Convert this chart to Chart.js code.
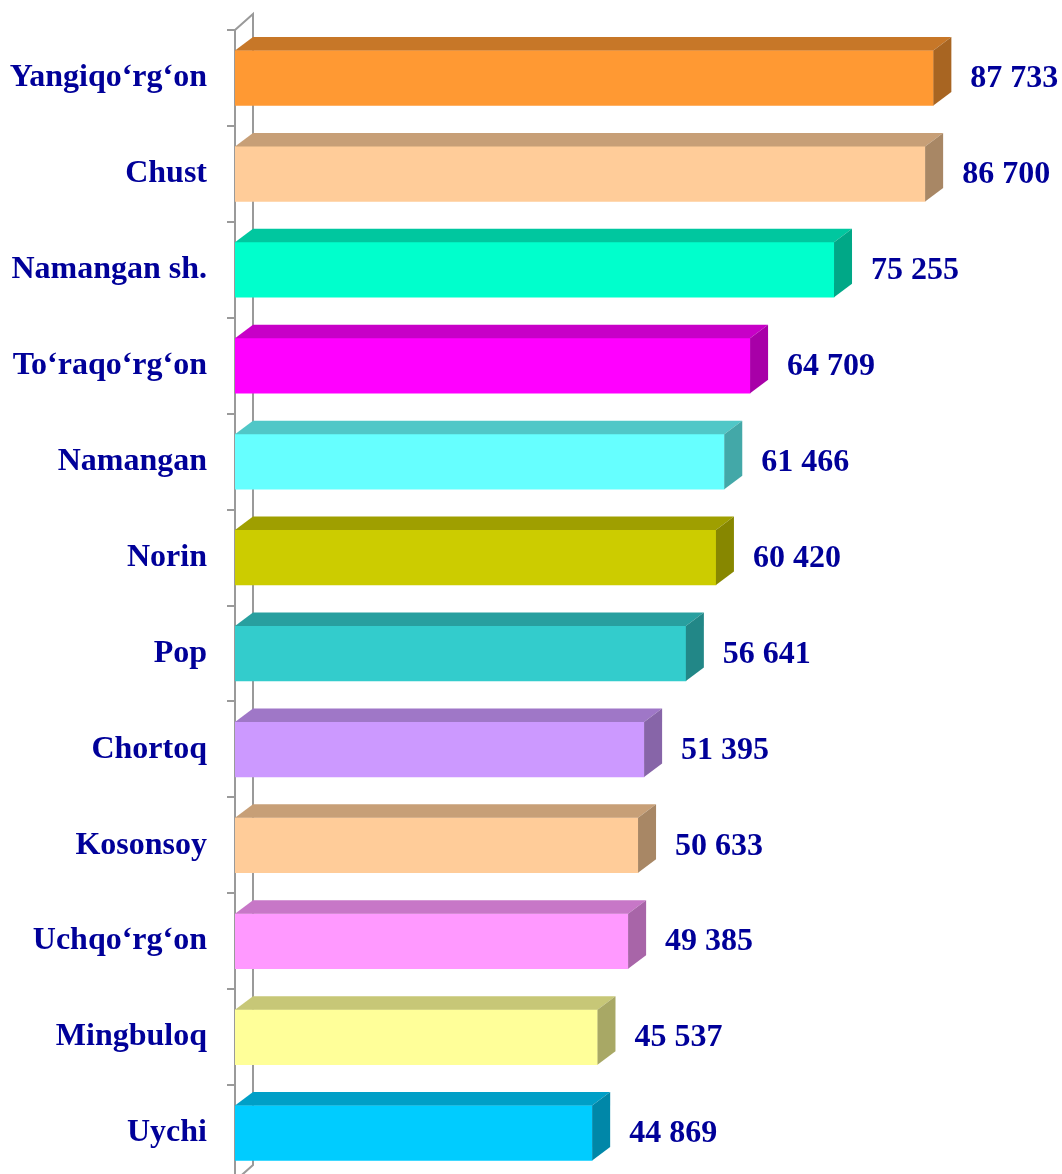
<!DOCTYPE html>
<html>
<head>
<meta charset="utf-8">
<script src="https://cdn.jsdelivr.net/npm/chart.js@4/dist/chart.umd.min.js"></script>
<style>
    html, body { margin: 0; padding: 0; background: #ffffff; overflow: hidden; height: 1174px; }
    /* the bottom band runs a few pixels past the window edge */
    #wrap { position: relative; width: 1062px; height: 1181px; }
</style>
</head>
<body>
<div id="wrap"><canvas id="chartTumanlar"></canvas></div>
<script>
// Districts and their values
const tumanlar = [
    'Yangiqo‘rg‘on', 'Chust', 'Namangan sh.', 'To‘raqo‘rg‘on', 'Namangan', 'Norin',
    'Pop', 'Chortoq', 'Kosonsoy', 'Uchqo‘rg‘on', 'Mingbuloq', 'Uychi'
];
const qiymatlar = [87733, 86700, 75255, 64709, 61466, 60420, 56641, 51395, 50633, 49385, 45537, 44869];

// Front face colours, one per bar
const ranglar = [
    '#FF9933', '#FFCC99', '#00FFCC', '#FF00FF', '#66FFFF', '#CCCC00',
    '#33CCCC', '#CC99FF', '#FFCC99', '#FF99FF', '#FFFF99', '#00CCFF'
];

const labelColor = '#000099';
const fontFamily = '"Liberation Serif", "Times New Roman", serif';
const labelFont = 'bold 32px ' + fontFamily;
const axisColor = '#9a9a9a';

// 3D depth of the box and of the wall
const depthX = 18;
const depthY = 13.5;
const wallY = 16;

function shade(hex, k) {
    const n = parseInt(hex.slice(1), 16);
    const r = Math.round(((n >> 16) & 255) * k);
    const g = Math.round(((n >> 8) & 255) * k);
    const b = Math.round((n & 255) * k);
    return `rgb(${r}, ${g}, ${b})`;
}

function formatSon(v) {
    return String(v).replace(/\B(?=(\d{3})+(?!\d))/g, ' ');
}

const bar3d = {
    id: 'bar3d',
    beforeDatasetsDraw(chart) {
        const { ctx, chartArea } = chart;
        const l = chartArea.left, t = chartArea.top, b = chartArea.bottom;
        ctx.save();
        ctx.strokeStyle = axisColor;
        ctx.lineWidth = 2;
        ctx.beginPath();
        ctx.moveTo(l, t);
        ctx.lineTo(l + depthX, t - wallY);
        ctx.lineTo(l + depthX, b - wallY);
        ctx.lineTo(l, b);
        ctx.stroke();
        ctx.restore();
    },
    afterDatasetsDraw(chart) {
        const { ctx } = chart;
        const meta = chart.getDatasetMeta(0);
        ctx.save();
        meta.data.forEach((bar, i) => {
            const { x, y, base, height } = bar.getProps(['x', 'y', 'base', 'height'], true);
            const top = y - height / 2;
            const bottom = y + height / 2;
            const c = ranglar[i];

            // top face
            ctx.fillStyle = shade(c, 0.78);
            ctx.beginPath();
            ctx.moveTo(base, top);
            ctx.lineTo(base + depthX, top - depthY);
            ctx.lineTo(x + depthX, top - depthY);
            ctx.lineTo(x, top);
            ctx.closePath();
            ctx.fill();

            // right side face
            ctx.fillStyle = shade(c, 0.66);
            ctx.beginPath();
            ctx.moveTo(x, top);
            ctx.lineTo(x + depthX, top - depthY);
            ctx.lineTo(x + depthX, bottom - depthY);
            ctx.lineTo(x, bottom);
            ctx.closePath();
            ctx.fill();

            // value label
            ctx.fillStyle = labelColor;
            ctx.font = labelFont;
            ctx.textAlign = 'left';
            ctx.textBaseline = 'middle';
            ctx.fillText(formatSon(qiymatlar[i]), x + 37, y + 1);
        });
        ctx.restore();
    }
};

const ctx = document.getElementById('chartTumanlar');
new Chart(ctx, {
    type: 'bar',
    data: {
        labels: tumanlar,
        datasets: [{
            data: qiymatlar,
            backgroundColor: ranglar,
            borderWidth: 0,
            barThickness: 55
        }]
    },
    options: {
        indexAxis: 'y',
        responsive: true,
        maintainAspectRatio: false,
        animation: false,
        layout: {
            padding: { top: 30, right: 31, bottom: 0, left: 0 }
        },
        plugins: {
            legend: { display: false },
            tooltip: { enabled: false }
        },
        scales: {
            x: {
                display: false,
                min: 0,
                max: 100000
            },
            y: {
                afterFit: function(scale) {
                    scale.width = 235;
                    scale.paddingTop = 0;
                    scale.paddingBottom = 0;
                },
                border: {
                    display: true,
                    color: axisColor,
                    width: 2
                },
                grid: {
                    offset: true,
                    drawOnChartArea: false,
                    drawTicks: true,
                    tickLength: 8,
                    color: axisColor,
                    lineWidth: 2
                },
                ticks: {
                    padding: 20,
                    color: labelColor,
                    font: {
                        size: 32,
                        weight: 'bold',
                        family: fontFamily
                    }
                }
            }
        }
    },
    plugins: [bar3d]
});
</script>
</body>
</html>
